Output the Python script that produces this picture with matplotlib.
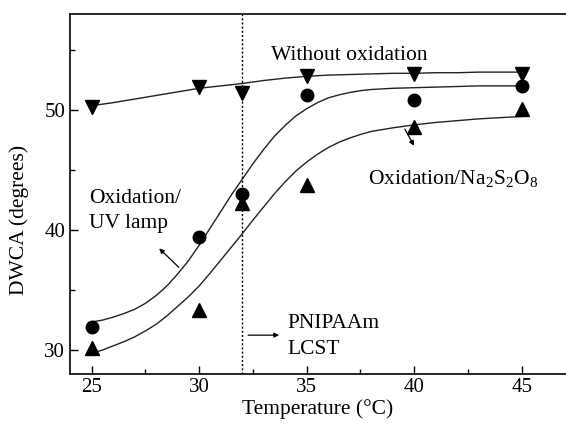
import numpy as np
import matplotlib
matplotlib.use("Agg")
import matplotlib.pyplot as plt
from matplotlib.ticker import MultipleLocator

plt.rcParams['font.family'] = ['Liberation Serif', 'DejaVu Serif']
plt.rcParams['mathtext.fontset'] = 'custom'
plt.rcParams['mathtext.rm'] = 'Liberation Serif'

# measured points
temps = [25, 30, 32, 35, 40, 45]
dwca_none = [50.2, 51.9, 51.4, 52.8, 53.0, 53.0]      # without oxidation
dwca_uv = [31.9, 39.4, 43.0, 51.2, 50.8, 52.0]        # oxidation / UV lamp
dwca_na = [30.1, 33.3, 42.2, 43.75, 48.6, 50.1]       # oxidation / Na2S2O8

# fitted curves
fit_t_none = list(range(25, 46))
fit_none = [50.35, 50.6, 50.9, 51.2, 51.5, 51.8, 52.0, 52.2, 52.45, 52.65, 52.8,
            52.9, 52.95, 53.0, 53.05, 53.05, 53.1, 53.1, 53.15, 53.15, 53.15]

fit_t = [25, 25.5, 26, 26.5, 27, 27.5, 28, 28.5, 29, 29.5, 30, 30.5, 31, 31.5,
         32, 32.5, 33, 33.5, 34, 34.5, 35, 35.5, 36, 36.5, 37, 37.5, 38, 39,
         40, 41, 42, 43, 44, 45]
fit_uv = [32.3, 32.45, 32.7, 33.0, 33.35, 33.85, 34.5, 35.3, 36.3, 37.4, 38.7,
          40.1, 41.5, 42.9, 44.2, 45.5, 46.7, 47.8, 48.7, 49.5, 50.1, 50.6,
          51.0, 51.25, 51.45, 51.6, 51.7, 51.8, 51.85, 51.9, 51.95, 52.0,
          52.0, 52.0]
fit_na = [29.7, 29.95, 30.3, 30.65, 31.05, 31.55, 32.1, 32.8, 33.6, 34.4, 35.3,
          36.35, 37.45, 38.55, 39.65, 40.8, 41.9, 43.0, 44.0, 44.9, 45.65,
          46.3, 46.85, 47.3, 47.65, 47.95, 48.2, 48.5, 48.75, 48.95, 49.1,
          49.25, 49.35, 49.45]

lcst = 32

fig = plt.figure(figsize=(5.66, 4.24), dpi=100)
ax = fig.add_axes([70/566, 1-373.5/424, 1-70/566, (373.5-14)/424])

lc = '#222222'
ax.plot(fit_t_none, fit_none, color=lc, lw=1.0)
ax.plot(fit_t, fit_uv, color=lc, lw=1.0)
ax.plot(fit_t, fit_na, color=lc, lw=1.0)

ax.plot(temps, dwca_none, 'v', color='k', ms=9.5, ls='none')
ax.plot(temps, dwca_uv, 'o', color='k', ms=9, ls='none')
ax.plot(temps, dwca_na, '^', color='k', ms=9.5, ls='none')

ax.axvline(lcst, color='k', ls=(0, (1.5, 1.5)), lw=1.0)

ax.set_xlim(24, 47.05)
ax.set_ylim(28, 58)
ax.xaxis.set_major_locator(MultipleLocator(5))
ax.xaxis.set_minor_locator(MultipleLocator(2.5))
ax.yaxis.set_major_locator(MultipleLocator(10))
ax.yaxis.set_minor_locator(MultipleLocator(5))
ax.tick_params(which='both', direction='in', labelsize=15, width=1.0)
ax.tick_params(which='major', length=6)
ax.tick_params(which='minor', length=3.5)
ax.spines['right'].set_visible(False)
for s in ['left', 'bottom', 'top']:
    ax.spines[s].set_linewidth(1.2)

ax.set_xlabel('Temperature (°C)', fontsize=15.5, labelpad=1)
ax.set_ylabel('DWCA (degrees)', fontsize=15.5)
ax.yaxis.set_label_coords(-0.082, 0.427)

ax.text(33.35, 54.5, 'Without oxidation', fontsize=15.5, va='center')
ax.text(24.9, 41.55, 'Oxidation/\nUV lamp', fontsize=15.5, va='center', linespacing=1.4)
ax.text(37.86, 44.2, 'Oxidation/Na$_2$S$_2$O$_8$', fontsize=15.5, va='center')
ax.text(34.1, 31.1, 'PNIPAAm\nLCST', fontsize=15.5, va='center', linespacing=1.45)

arr = dict(arrowstyle='-|>', color='k', lw=0.9, mutation_scale=7)
ax.annotate('', xy=(28.05, 38.6), xytext=(29.15, 36.7), arrowprops=arr)
ax.annotate('', xy=(40.05, 46.8), xytext=(39.5, 48.6), arrowprops=arr)
ax.annotate('', xy=(33.85, 31.2), xytext=(32.15, 31.2), arrowprops=arr)

fig.savefig('out.png', dpi=100)
